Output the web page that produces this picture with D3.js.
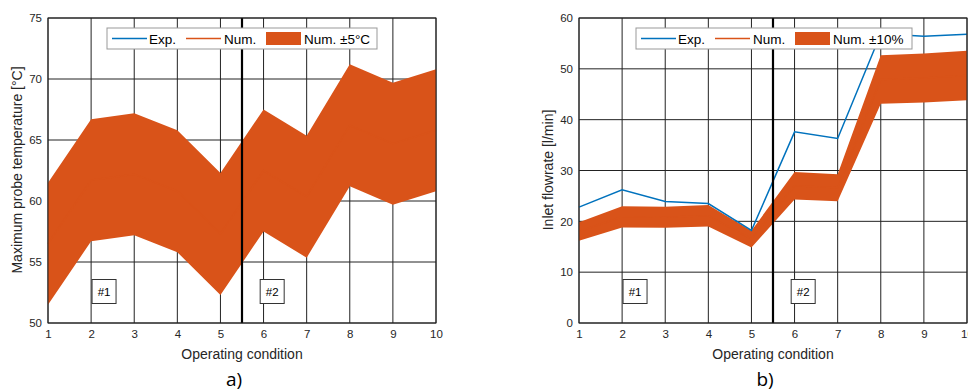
<!DOCTYPE html>
<html lang="en">
<head>
  <meta charset="UTF-8">
  <title>Operating conditions</title>
  <script src="https://d3js.org/d3.v7.min.js"></script>
  <style>
    body { margin: 0; background: #fff; }
    text { font-family: 'Liberation Sans', Arial, sans-serif; }
  </style>
</head>
<body>
  <div id="canvas"></div>
  <script>
    // operating conditions 1..10
    const conditions = [1, 2, 3, 4, 5, 6, 7, 8, 9, 10];

    // a) maximum probe temperature, numerical result (band = +-5 degC)
    const tempNum = [56.5, 61.7, 62.2, 60.8, 57.3, 62.5, 60.35, 66.2, 64.7, 65.8];
    const tempTicks = [50, 55, 60, 65, 70, 75];

    // b) inlet flowrate, experiment and numerical result (band = +-10%)
    const flowExp = [22.8, 26.2, 23.9, 23.5, 18.2, 37.6, 36.3, 56.9, 56.4, 56.8];
    const flowNum = [18.0, 20.9, 20.8, 21.1, 16.5, 27.0, 26.6, 47.9, 48.2, 48.7];
    const flowTicks = [0, 10, 20, 30, 40, 50, 60];

    const blue = '#0072BD';
    const orange = '#D95319';
    const textCol = '#262626';

    const svg = d3.select('#canvas').append('svg')
      .attr('width', 968)
      .attr('height', 392);

    function panel(opt) {
      const x = d3.scaleLinear().domain([1, 10]).range([opt.left, opt.right]);
      const y = d3.scaleLinear().domain(opt.yDomain).range([323, 18]);
      const g = svg.append('g');

      // grid
      g.append('g').selectAll('line').data(conditions).join('line')
        .attr('x1', d => x(d)).attr('x2', d => x(d))
        .attr('y1', y.range()[0]).attr('y2', y.range()[1])
        .attr('stroke', '#222').attr('stroke-width', 1);
      g.append('g').selectAll('line').data(opt.ticks).join('line')
        .attr('x1', opt.left).attr('x2', opt.right)
        .attr('y1', d => y(d)).attr('y2', d => y(d))
        .attr('stroke', '#222').attr('stroke-width', 1);

      // band
      g.append('path').datum(opt.num)
        .attr('d', d3.area()
          .x((d, i) => x(conditions[i]))
          .y0(d => y(opt.band(d)[0]))
          .y1(d => y(opt.band(d)[1])))
        .attr('fill', orange);

      const line = d3.line().x((d, i) => x(conditions[i])).y(d => y(d));
      g.append('path').datum(opt.num)
        .attr('d', line).attr('fill', 'none')
        .attr('stroke', orange).attr('stroke-width', 1.5);
      if (opt.exp) {
        g.append('path').datum(opt.exp)
          .attr('d', line).attr('fill', 'none')
          .attr('stroke', blue).attr('stroke-width', 1.5);
      }

      // separator at 5.5
      g.append('line')
        .attr('x1', x(5.5)).attr('x2', x(5.5))
        .attr('y1', y.range()[0]).attr('y2', y.range()[1])
        .attr('stroke', '#000').attr('stroke-width', 2.2);

      // axes
      const xAxis = g.append('g')
        .attr('transform', 'translate(0,' + y.range()[0] + ')')
        .call(d3.axisBottom(x).tickValues(conditions).tickSize(0).tickPadding(7).tickSizeOuter(0));
      const yAxis = g.append('g')
        .attr('transform', 'translate(' + opt.left + ',0)')
        .call(d3.axisLeft(y).tickValues(opt.ticks).tickSize(0).tickPadding(6).tickSizeOuter(0));
      [xAxis, yAxis].forEach(a => {
        a.select('.domain').remove();
        a.selectAll('text').attr('fill', textCol).style('font-size', '11.5px');
      });

      g.append('rect')
        .attr('x', opt.left).attr('y', 18)
        .attr('width', opt.right - opt.left).attr('height', 305)
        .attr('fill', 'none').attr('stroke', '#222').attr('stroke-width', 1);

      // annotation boxes
      [['#1', 2.3], ['#2', 6.2]].forEach(([lab, c]) => {
        const cx = x(c), cy = 291.5;
        g.append('rect')
          .attr('x', cx - 12).attr('y', cy - 12)
          .attr('width', 24).attr('height', 24)
          .attr('fill', '#fff').attr('stroke', '#333').attr('stroke-width', 1);
        g.append('text')
          .attr('x', cx).attr('y', cy + 4)
          .attr('text-anchor', 'middle')
          .style('font-size', '11.5px').attr('fill', '#000')
          .text(lab);
      });

      // axis titles
      g.append('text')
        .attr('x', (opt.left + opt.right) / 2)
        .attr('y', 359)
        .attr('text-anchor', 'middle')
        .style('font-size', '14px').attr('fill', textCol)
        .text('Operating condition');
      g.append('text')
        .attr('transform', 'translate(' + opt.yTitleX + ',170) rotate(-90)')
        .attr('text-anchor', 'middle')
        .style('font-size', '14px').attr('fill', textCol)
        .text(opt.yTitle);

      // legend
      const lg = g.append('g').attr('transform', 'translate(' + opt.legendX + ',28)');
      lg.append('rect')
        .attr('width', opt.legendW).attr('height', 21)
        .attr('fill', '#fff').attr('stroke', '#999').attr('stroke-width', 1);
      lg.append('line').attr('x1', 5).attr('x2', 40).attr('y1', 10.5).attr('y2', 10.5)
        .attr('stroke', blue).attr('stroke-width', 1.5);
      lg.append('text').attr('x', 42).attr('y', 15.5).style('font-size', '13.5px').attr('fill', '#000').text('Exp.');
      lg.append('line').attr('x1', 79).attr('x2', 114).attr('y1', 10.5).attr('y2', 10.5)
        .attr('stroke', orange).attr('stroke-width', 1.5);
      lg.append('text').attr('x', 117).attr('y', 15.5).style('font-size', '13.5px').attr('fill', '#000').text('Num.');
      lg.append('rect').attr('x', 159).attr('y', 4).attr('width', 35).attr('height', 13).attr('fill', orange);
      lg.append('text').attr('x', 197).attr('y', 15.5).style('font-size', '13.5px').attr('fill', '#000').text(opt.bandLabel);

      // panel label
      svg.append('text')
        .attr('x', opt.panelX).attr('y', 386)
        .attr('text-anchor', 'middle')
        .style('font-family', "'Open Sans', sans-serif")
        .style('font-size', '19px').attr('fill', '#000')
        .text(opt.panelLabel);
    }

    panel({
      left: 48, right: 436, yDomain: [50, 75], ticks: tempTicks,
      num: tempNum, exp: null, band: d => [d - 5, d + 5],
      yTitle: 'Maximum probe temperature [°C]', yTitleX: 22,
      legendX: 107, legendW: 270, bandLabel: 'Num. ±5°C',
      panelX: 234, panelLabel: 'a)'
    });
    panel({
      left: 579, right: 967, yDomain: [0, 60], ticks: flowTicks,
      num: flowNum, exp: flowExp, band: d => [d * 0.9, d * 1.1],
      yTitle: 'Inlet flowrate [l/min]', yTitleX: 553,
      legendX: 636, legendW: 276, bandLabel: 'Num. ±10%',
      panelX: 765, panelLabel: 'b)'
    });
  </script>
</body>
</html>
